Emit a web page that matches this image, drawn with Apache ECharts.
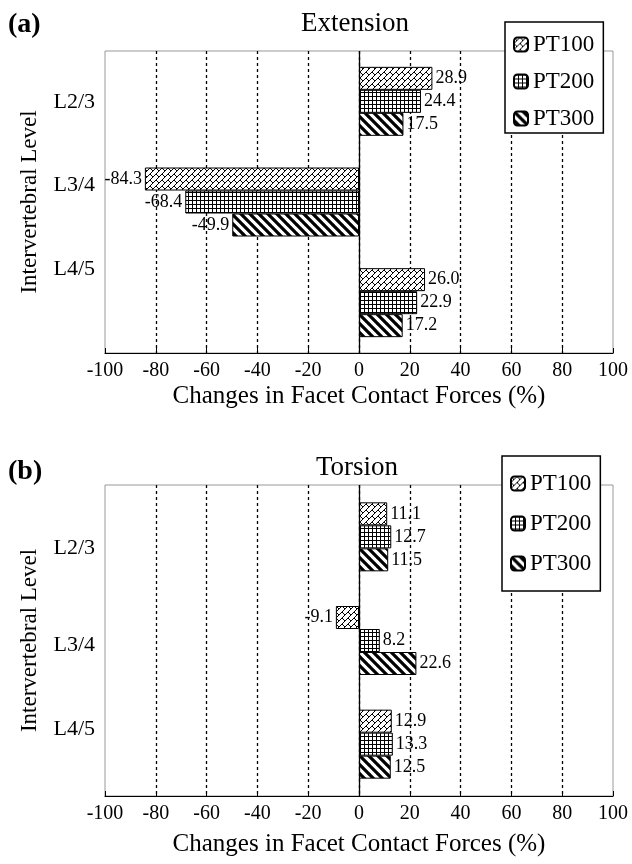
<!DOCTYPE html>
<html>
<head>
<meta charset="utf-8">
<script src="https://cdn.jsdelivr.net/npm/echarts@6/dist/echarts.min.js"></script>
<style>
  html, body { margin: 0; padding: 0; background: #fff; }
  #main { width: 632px; height: 864px; }
</style>
</head>
<body>
<div id="main"></div>
<script>
  // data
  const levels = ['L2/3', 'L3/4', 'L4/5'];
  const groups = ['PT100', 'PT200', 'PT300'];
  const extPT100 = [28.9, -84.3, 26.0];
  const extPT200 = [24.4, -68.4, 22.9];
  const extPT300 = [17.5, -49.9, 17.2];
  const torPT100 = [11.1, -9.1, 12.9];
  const torPT200 = [12.7, 8.2, 13.3];
  const torPT300 = [11.5, 22.6, 12.5];
  const xMin = -100, xMax = 100, xStep = 20;

  const FONT = '"Liberation Serif", "DejaVu Serif", serif';

  // hatch fills drawn on small canvases
  function makePattern(kind) {
    let c = document.createElement('canvas');
    let s = kind === 'grid' ? 4 : (kind === 'stripe' ? 9 : 12);
    c.width = s; c.height = s;
    let g = c.getContext('2d');
    g.fillStyle = '#fff';
    g.fillRect(0, 0, s, s);
    g.strokeStyle = '#000';
    g.beginPath();
    if (kind === 'grid') {
      g.lineWidth = 1;
      g.moveTo(0, 0.5); g.lineTo(s, 0.5);
      g.moveTo(0.5, 0); g.lineTo(0.5, s);
    } else if (kind === 'stripe') {
      g.lineWidth = 3.2;
      for (let k = -s; k <= s; k += s) {
        g.moveTo(k - 1, -1); g.lineTo(k + s + 1, s + 1);
      }
    } else {
      // brick-like zigzag
      g.lineWidth = 1;
      for (let k = -6; k <= 30; k += 6) {
        g.moveTo(k, 0); g.lineTo(k - 12, 12);
      }
      let segs = [[0, 0, 3, 3], [6, 6, 9, 9], [6, 0, 9, 3], [0, 6, 3, 9]];
      for (let dx = -12; dx <= 12; dx += 12) {
        for (let dy = -12; dy <= 12; dy += 12) {
          segs.forEach(p => {
            g.moveTo(p[0] + dx, p[1] + dy); g.lineTo(p[2] + dx, p[3] + dy);
          });
        }
      }
    }
    g.stroke();
    return {image: c, repeat: 'repeat'};
  }
  const fills = [makePattern('brick'), makePattern('grid'), makePattern('stripe')];

  // shift of each level label (px, + is down), as in the original figure
  function levelLabel(shifts) {
    let rich = {};
    shifts.forEach((d, i) => {
      rich['s' + i] = {
        fontFamily: FONT, fontSize: 22, color: '#000',
        padding: d >= 0 ? [2 * d, 0, 0, 0] : [0, 0, -2 * d, 0]
      };
    });
    return {
      margin: 10,
      formatter: (v, i) => '{s' + i + '|' + v + '}',
      rich: rich
    };
  }

  function makeSeries(idx, lists) {
    return lists.map((vals, i) => {
      let s = {
        name: groups[i],
        type: 'bar',
        xAxisIndex: idx,
        yAxisIndex: idx,
        barWidth: 23,
        barGap: '0%',
        itemStyle: {color: fills[i], borderColor: '#000', borderWidth: 1},
        label: {
          show: true, distance: 3,
          fontFamily: FONT, fontSize: 18, color: '#000',
          formatter: p => p.value.toFixed(1)
        },
        data: vals.map(v => ({value: v, label: {position: v < 0 ? 'left' : 'right'}}))
      };
      if (i === 0) {
        s.markLine = {
          silent: true, symbol: 'none', label: {show: false},
          lineStyle: {color: '#000', type: 'solid', width: 1.3},
          data: [{xAxis: 0}]
        };
      }
      return s;
    });
  }

  function xAxisFor(idx, gap) {
    return {
      type: 'value', gridIndex: idx,
      min: xMin, max: xMax, interval: xStep,
      name: 'Changes in Facet Contact Forces (%)',
      nameLocation: 'middle', nameGap: gap,
      nameTextStyle: {fontFamily: FONT, fontSize: 25, color: '#000'},
      axisLine: {show: true, lineStyle: {color: '#000', width: 1.2}},
      axisTick: {show: true, inside: true, length: 5, lineStyle: {color: '#000'}},
      axisLabel: {fontFamily: FONT, fontSize: 20, color: '#000', margin: 8},
      splitLine: {
        show: true, showMinLine: false, showMaxLine: false,
        lineStyle: {color: '#000', type: [3, 3], width: 1.3}
      }
    };
  }

  function yAxisFor(idx, shifts) {
    return {
      type: 'category', gridIndex: idx, inverse: true,
      data: levels,
      name: 'Intervertebral Level',
      nameLocation: 'middle', nameGap: 64, nameRotate: 90,
      nameTextStyle: {fontFamily: FONT, fontSize: 23, color: '#000'},
      axisLine: {show: false},
      axisTick: {show: false},
      axisLabel: levelLabel(shifts)
    };
  }

  function legendFor(left, top, gap, pad) {
    return {
      left: left, top: top, orient: 'vertical',
      data: groups,
      itemWidth: 14, itemHeight: 14, itemGap: gap,
      padding: pad,
      borderColor: '#000', borderWidth: 1.5,
      backgroundColor: '#fff',
      selectedMode: false,
      textStyle: {fontFamily: FONT, fontSize: 23, color: '#000'}
    };
  }

  let chart = echarts.init(document.getElementById('main'));
  let option = {
    animation: false,
    backgroundColor: '#fff',
    grid: [
      {left: 105, top: 51, width: 508, height: 302, show: true, borderColor: '#999', borderWidth: 1},
      {left: 105, top: 485, width: 508, height: 311, show: true, borderColor: '#999', borderWidth: 1}
    ],
    xAxis: [xAxisFor(0, 31), xAxisFor(1, 36)],
    yAxis: [yAxisFor(0, [1, -17, -33]), yAxisFor(1, [11, 5, -15])],
    legend: [
      legendFor(505, 22, 14, [11, 9, 3, 8]),
      legendFor(502, 456, 17, [16, 9, 16, 8])
    ],
    graphic: [
      {type: 'text', x: 8, y: 25, style: {text: '(a)', font: 'bold 28px ' + FONT, fill: '#000', textVerticalAlign: 'middle'}},
      {type: 'text', x: 8, y: 472, style: {text: '(b)', font: 'bold 28px ' + FONT, fill: '#000', textVerticalAlign: 'middle'}},
      {type: 'text', x: 355, y: 24, style: {text: 'Extension', font: '27px ' + FONT, fill: '#000', textAlign: 'center', textVerticalAlign: 'middle'}},
      {type: 'text', x: 357, y: 468, style: {text: 'Torsion', font: '27px ' + FONT, fill: '#000', textAlign: 'center', textVerticalAlign: 'middle'}}
    ],
    series: makeSeries(0, [extPT100, extPT200, extPT300])
      .concat(makeSeries(1, [torPT100, torPT200, torPT300]))
  };
  chart.setOption(option);
</script>
</body>
</html>
